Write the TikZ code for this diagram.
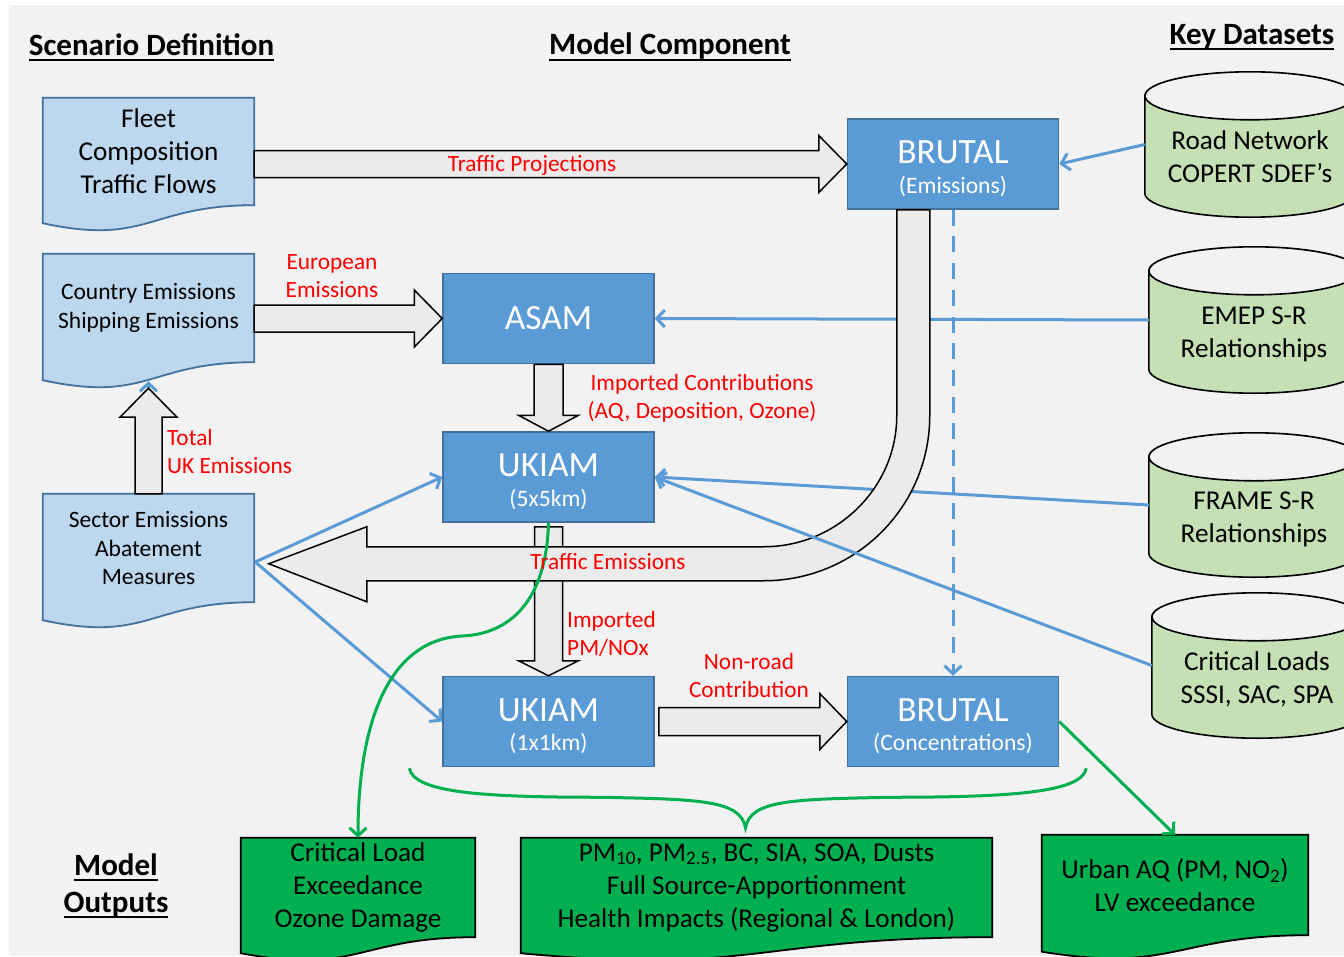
\documentclass[tikz,border=0pt]{standalone}
\usepackage{fontspec}
\setmainfont{Carlito}
\usetikzlibrary{positioning,arrows.meta,calc,backgrounds}

\definecolor{bggray}{HTML}{F2F2F2}
\definecolor{docblue}{HTML}{BDD7EE}
\definecolor{edgeblue}{HTML}{41719C}
\definecolor{modelblue}{HTML}{5B9BD5}
\definecolor{dbgreen}{HTML}{C5E0B4}
\definecolor{outgreen}{HTML}{00B050}
\definecolor{fatgray}{HTML}{EBEBEB}
\definecolor{lblred}{HTML}{FF0000}

\pgfdeclarelayer{backdrop}
\pgfsetlayers{backdrop,background,main}

\newcommand{\headfont}{\fontsize{31}{37}\selectfont\bfseries}
\newcommand{\bigtxt}{\fontsize{35.5}{29.5}\selectfont}
\newcommand{\subtxt}{\fontsize{23.6}{29}\selectfont}
\newcommand{\doctxt}{\fontsize{27.2}{33}\selectfont}
\newcommand{\smalldoctxt}{\fontsize{23.5}{28.5}\selectfont}
\newcommand{\lbltxt}{\fontsize{23.3}{28}\selectfont}

\newsavebox{\headbox}
\newcommand{\headline}[1]{\sbox{\headbox}{#1}\rlap{\vrule height -4pt depth 5.8pt width \wd\headbox}\usebox{\headbox}}

% document outline with wavy bottom (node, control drop, left drop, style)
\newcommand{\docshape}[4]{\path[#4] (#1.north west) -- (#1.north east) -- (#1.south east)
  .. controls (#1.south) and ($(#1.south)+(0,#2)$) .. ($(#1.south west)+(0,#3)$) -- cycle;}
% data store cylinder round a node
\newcommand{\cylshape}[1]{\path[cylfill] ($(#1.north west)+(0,24)$) -- ($(#1.south west)+(0,-24)$)
  .. controls +(0,13) and +(-58,0) .. (#1.south) .. controls +(58,0) and +(0,13) .. ($(#1.south east)+(0,-24)$)
  -- ($(#1.north east)+(0,24)$) .. controls +(0,-13) and +(58,0) .. (#1.north)
  .. controls +(-58,0) and +(0,-13) .. ($(#1.north west)+(0,24)$) -- cycle
  ($(#1.north)+(0,24)$) ellipse [x radius=105, y radius=24];}
% block arrows (tail, tip, shaft half, head half, head length)
\newcommand{\fatright}[5]{\path[fat] ($(#1)+(0,-#3)$) -- ($(#2)+(-#5,-#3)$) -- ($(#2)+(-#5,-#4)$) -- (#2)
  -- ($(#2)+(-#5,#4)$) -- ($(#2)+(-#5,#3)$) -- ($(#1)+(0,#3)$) -- cycle;}
\newcommand{\fatdown}[5]{\path[fat] ($(#1)+(-#3,0)$) -- ($(#2)+(-#3,-#5)$) -- ($(#2)+(-#4,-#5)$) -- (#2)
  -- ($(#2)+(#4,-#5)$) -- ($(#2)+(#3,-#5)$) -- ($(#1)+(#3,0)$) -- cycle;}
\newcommand{\fatup}[5]{\path[fat] ($(#1)+(-#3,0)$) -- ($(#2)+(-#3,#5)$) -- ($(#2)+(-#4,#5)$) -- (#2)
  -- ($(#2)+(#4,#5)$) -- ($(#2)+(#3,#5)$) -- ($(#1)+(#3,0)$) -- cycle;}

\begin{document}
\begin{tikzpicture}[x=1pt, y=-1pt,
  headtxt/.style={font=\headfont, align=center, inner sep=0pt},
  docnode/.style={rectangle, inner sep=0pt, minimum width=211pt, align=center},
  docfill/.style={fill=docblue, draw=edgeblue, line width=1.8pt},
  outfill/.style={fill=outgreen, draw=black, line width=1.8pt},
  model/.style={rectangle, draw=edgeblue, line width=1.5pt, fill=modelblue, minimum width=211pt,
    minimum height=90pt, inner sep=0pt, text=white, align=center, font=\bigtxt},
  dbnode/.style={rectangle, inner sep=0pt, minimum width=210pt},
  dbtext/.style={font=\doctxt, align=center, inner sep=0pt, yshift=-14pt},
  cylfill/.style={fill=dbgreen, draw=black, line width=1.6pt},
  fat/.style={fill=fatgray, draw=black, line width=1.5pt, line join=miter},
  link/.style={draw=modelblue, line width=3pt, -{Straight Barb[length=8pt,width=17pt]}},
  gline/.style={draw=outgreen, line width=3pt},
  garrow/.style={gline, -{Straight Barb[length=8pt,width=17pt]}},
  redlbl/.style={text=lblred, font=\lbltxt, align=center, inner sep=0pt}]
  \useasboundingbox (0,0) rectangle (1344,956);

  \node[headtxt] (hdScen) at (151.5,47) {\headline{Scenario Definition}};
  \node[headtxt] (hdComp) at (670,47) {\headline{Model Component}};
  \node[headtxt] (hdKey) at (1252,37) {\headline{Key Datasets}};
  \node[headtxt] (hdOut) at (116,886) {\headline{Model}\\\headline{Outputs}};

  \node[docnode, minimum height=107pt, font=\doctxt] (fleet) at (148.5,151.5) {Fleet\\Composition\\Traffic Flows};
  \node[docnode, minimum height=108pt, font=\smalldoctxt] (country) at (148.5,308) {Country Emissions\\Shipping Emissions};
  \node[docnode, minimum height=108pt, font=\smalldoctxt] (sector) at (148.5,548) {Sector Emissions\\Abatement\\Measures};

  \node[model] (ukiam5) at (548.5,477) {\rule{0pt}{32pt}UKIAM\\\subtxt (5x5km)};
  \node[model, above=67pt of ukiam5] (asam) {ASAM};
  \node[model, below=153pt of ukiam5] (ukiam1) {\rule{0pt}{32pt}UKIAM\\\subtxt (1x1km)};
  \node[model, right=192pt of ukiam1] (brutalC) {\rule{0pt}{32pt}BRUTAL\\\subtxt (Concentrations)};
  \node[model, above=466pt of brutalC] (brutalE) {\rule{0pt}{32pt}BRUTAL\\\subtxt (Emissions)};

  \node[dbnode, minimum height=145pt, label={[dbtext, yshift=2pt]center:{Road Network\\COPERT SDEF’s}}] (road) at (1250,144.5) {};
  \node[dbnode, minimum height=146pt, label={[dbtext]center:{EMEP S-R\\Relationships}}] (emep) at (1254,320) {};
  \node[dbnode, minimum height=144pt, label={[dbtext]center:{FRAME S-R\\Relationships}}] (frame) at (1254,505) {};
  \node[dbnode, minimum height=145pt, label={[dbtext]center:{Critical Loads\\SSSI, SAC, SPA}}] (critl) at (1257,665.5) {};

  \node[docnode, minimum width=234pt, minimum height=99pt, font=\doctxt] (outCL) at (358,887.5) {Critical Load\\Exceedance\\Ozone Damage};
  \node[docnode, minimum width=471pt, minimum height=99pt, font=\doctxt] (outPM) at (756.5,887.5)
    {PM\textsubscript{10}, PM\textsubscript{2.5}, BC, SIA, SOA, Dusts\\Full Source-Apportionment\\Health Impacts (Regional \& London)};
  \node[docnode, minimum width=266pt, minimum height=100pt, font=\doctxt] (outAQ) at (1175,885) {Urban AQ (PM, NO\textsubscript{2})\\LV exceedance};

  \begin{pgfonlayer}{backdrop}
    \fill[bggray] (9,5) rectangle (1344,956);
  \end{pgfonlayer}
  \begin{pgfonlayer}{background}
    \docshape{fleet}{41}{18}{docfill}
    \docshape{country}{41}{18}{docfill}
    \docshape{sector}{41}{18}{docfill}
    \docshape{outCL}{38}{16}{outfill}
    \docshape{outPM}{38}{16}{outfill}
    \docshape{outAQ}{38}{16.5}{outfill}
    \cylshape{road} \cylshape{emep} \cylshape{frame} \cylshape{critl}
  \end{pgfonlayer}

  % total UK emissions
  \coordinate (countryWave) at ($(country.south)+(0,19)$);
  \coordinate (ukTip) at ($(country.south)+(0,26)$);
  \draw[link] (sector.north) -- (countryWave);
  \fatup{sector.north}{ukTip}{13.5}{28.5}{29}

  \draw[link] (emep.west) -- (asam.east);
  \draw[link] (frame.west) -- (ukiam5.east);

  % imported PM/NOx under the traffic emissions band
  \coordinate (pmTail) at ($(ukiam5.south)+(0,4)$);
  \fatdown{pmTail}{ukiam1.north}{14}{30}{15}
  \coordinate (teTop) at ($(brutalE.south west)+(50,0)$);
  \path[fat] (teTop) -- ++(33,0) -- ++(0,206) .. controls +(0,91) and +(92,0) .. ++(-166,165)
    -- ++(-397,0) -- ++(0,21) -- ++(-98,-38) -- ++(98,-37) -- ++(0,20) -- ++(397,0)
    .. controls +(73,0) and +(0,72) .. ++(133,-131) -- cycle;

  \coordinate (tpTail) at (fleet.east |- brutalE.west);
  \fatright{tpTail}{brutalE.west}{13.5}{28.5}{28}
  \coordinate (euTail) at (country.east |- asam.west);
  \fatright{euTail}{asam.west}{13.5}{28.5}{28}
  \fatdown{asam.south}{ukiam5.north}{14.5}{30}{16}
  \coordinate (nrTail) at ($(ukiam1.east)+(4,0)$);
  \fatright{nrTail}{brutalC.west}{14}{28}{27}

  \draw[link] (critl.west) -- (ukiam5.east);
  \draw[link] (road.west) -- (brutalE.east);
  \coordinate (sectorOut) at ($(sector.east)+(1,14)$);
  \draw[link] (sectorOut) -- (ukiam5.west);
  \draw[link] (sectorOut) -- (ukiam1.west);
  \draw[link, dash pattern=on 16pt off 10.7pt] (brutalE.south) -- (brutalC.north);

  % outputs
  \coordinate (clBend) at (462,636);
  \draw[garrow] (ukiam5.south) .. controls +(-2,78) and +(48,-2) .. (clBend)
    .. controls +(-77,4) and +(0,-108) .. (outCL.north);
  \draw[garrow] (brutalC.east) -- (outAQ.north);
  \coordinate (brL) at ($(ukiam1.south west)+(-33,1)$);
  \coordinate (brR) at ($(brutalC.south east)+(27,1)$);
  \coordinate (brTip) at ($(outPM.north)+(-11,-10)$);
  \draw[gline] (brL) .. controls +(5,24) and +(-120,0) .. ($(brL)+(190,29)$)
    .. controls +(100,2) and +(-5,-28) .. (brTip)
    .. controls +(5,-28) and +(-100,2) .. ($(brR)+(-194,29)$)
    .. controls +(120,0) and +(-4,24) .. (brR);

  \node[redlbl] (lblTP) at (532,165) {Traffic Projections};
  \node[redlbl] (lblEU) at (332,276) {European\\Emissions};
  \node[redlbl] (lblIC) at (702,398) {Imported Contributions\\(AQ, Deposition, Ozone)};
  \node[redlbl, align=left, anchor=west] (lblUK) at (167,451) {Total\\UK Emissions};
  \node[redlbl] (lblTE) at (608,562) {Traffic Emissions};
  \node[redlbl, align=left, anchor=west] (lblPM) at (567,634) {Imported\\PM/NOx};
  \node[redlbl] (lblNR) at (749,675) {Non-road\\Contribution};
\end{tikzpicture}
\end{document}
